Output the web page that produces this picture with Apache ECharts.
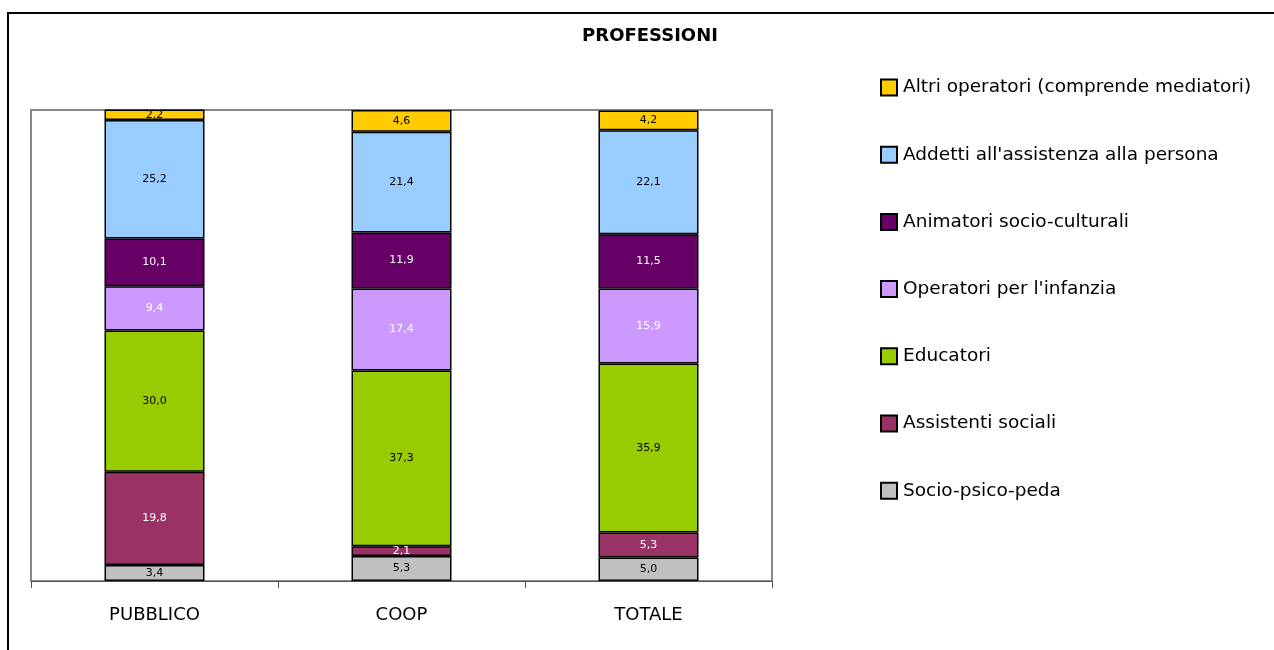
<!DOCTYPE html>
<html>
<head>
<meta charset="utf-8">
<script src="https://cdn.jsdelivr.net/npm/echarts@6/dist/echarts.min.js"></script>
<style>
html,body{margin:0;padding:0;background:#fff;}
#c{width:1274px;height:650px;}
</style>
</head>
<body>
<div id="c"></div>
<script>
const categories = ['PUBBLICO', 'COOP', 'TOTALE'];
const seriesNames = ['Socio-psico-peda', 'Assistenti sociali', 'Educatori', 'Operatori per l\'infanzia', 'Animatori socio-culturali', 'Addetti all\'assistenza alla persona', 'Altri operatori (comprende mediatori)'];
const socioPsicoPeda = [3.4, 5.3, 5.0];
const assistentiSociali = [19.8, 2.1, 5.3];
const educatori = [30.0, 37.3, 35.9];
const operatoriInfanzia = [9.4, 17.4, 15.9];
const animatori = [10.1, 11.9, 11.5];
const addetti = [25.2, 21.4, 22.1];
const altri = [2.2, 4.6, 4.2];
const colors = ['#C0C0C0', '#993366', '#99CC00', '#CC99FF', '#660066', '#99CCFF', '#FFCC00'];
const labelColors = ['#000', '#fff', '#000', '#fff', '#fff', '#000', '#000'];
const values = [socioPsicoPeda, assistentiSociali, educatori, operatoriInfanzia, animatori, addetti, altri];

const chart = echarts.init(document.getElementById('c'), null, {renderer: 'canvas'});
const font = 'Tahoma, "DejaVu Sans", Verdana, sans-serif';
const series = seriesNames.map((n, i) => ({
  name: n,
  type: 'bar',
  stack: 'tot',
  barWidth: 100,
  data: values[i],
  itemStyle: {color: colors[i], borderColor: '#000', borderWidth: 1.5},
  label: {
    show: true,
    position: 'inside',
    color: labelColors[i],
    fontSize: 11,
    fontFamily: font,
    formatter: p => p.value.toFixed(1).replace('.', ',')
  }
}));

chart.setOption({
  animation: false,
  backgroundColor: '#fff',
  title: {
    text: 'PROFESSIONI',
    left: 645, top: 22, textAlign: 'center',
    textStyle: {fontSize: 18, fontWeight: 'bold', fontFamily: font, color: '#000'}
  },
  legend: {
    orient: 'vertical',
    left: 875, top: 73,
    icon: 'rect',
    itemWidth: 16, itemHeight: 16,
    itemGap: 48.2,
    data: seriesNames.slice().reverse(),
    textStyle: {fontSize: 18.5, fontFamily: font, color: '#000', padding: [0, 0, 0, 1]},
    itemStyle: {borderColor: '#000', borderWidth: 2}
  },
  grid: {
    left: 31, right: 502, top: 110, bottom: 69,
    show: true, borderColor: '#888', borderWidth: 2, backgroundColor: '#fff'
  },
  xAxis: {
    type: 'category',
    data: categories,
    axisLine: {lineStyle: {color: '#555', width: 1}},
    axisTick: {show: true, length: 7, lineStyle: {color: '#555'}},
    axisLabel: {fontSize: 18, fontFamily: font, color: '#000', margin: 25}
  },
  yAxis: {
    type: 'value', min: 0, max: 100,
    show: false,
    splitLine: {show: false}
  },
  graphic: [{
    type: 'polyline',
    shape: {points: [[8, 700], [8, 13], [1300, 13]]},
    style: {stroke: '#000', lineWidth: 2, fill: null}
  }],
  series: series
});
</script>
</body>
</html>
